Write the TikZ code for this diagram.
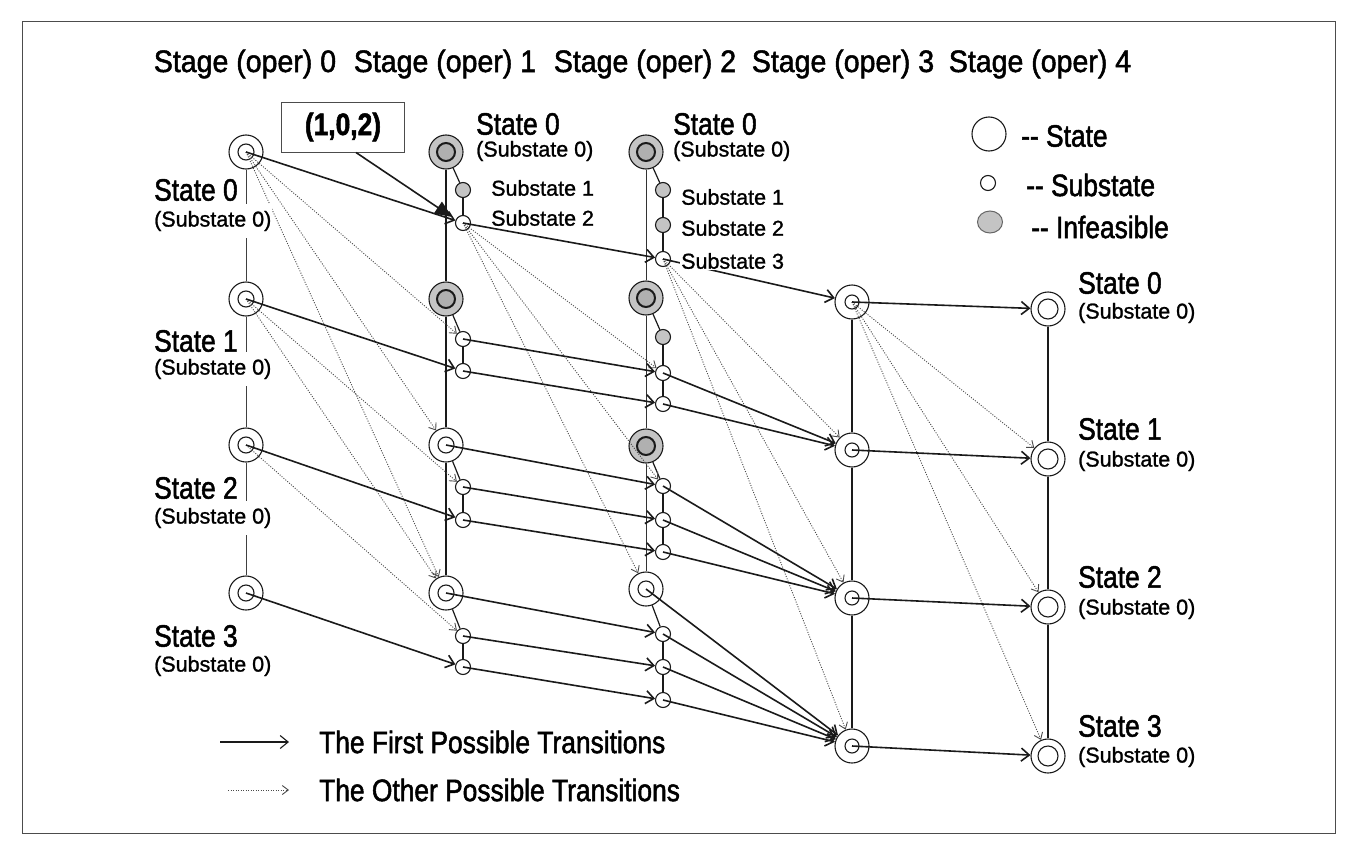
\documentclass[tikz,border=0pt]{standalone}
\usepackage{fontspec}
\setmainfont{Liberation Sans}[FakeBold=1.2]
\newfontfamily\condf{Liberation Sans}[FakeStretch=0.85,FakeBold=1.6]
\newfontfamily\headf{Liberation Sans}[FakeStretch=0.92,FakeBold=1.6]
\newfontfamily\smallf{Liberation Sans}[FakeBold=1.2]
\usetikzlibrary{arrows.meta,shapes.geometric}
\definecolor{cInf}{HTML}{C4C4C4}
\definecolor{cInk}{HTML}{1A1A1A}
\definecolor{cDot}{HTML}{4A4A4A}
\tikzset{
  st/.style ={circle,draw=cInk,line width=1.1pt,fill=white,minimum size=34pt,inner sep=0pt,
              path picture={\draw[cInk,line width=1.1pt] (path picture bounding box.center) circle (#1);}},
  st/.default=8pt,
  inf/.style={circle,draw=cInk,line width=1.1pt,fill=cInf,minimum size=34pt,inner sep=0pt,
              path picture={\draw[cInk,line width=2pt,fill=cInf!90!black] (path picture bounding box.center) circle (9pt);}},
  sb/.style ={circle,draw=cInk,line width=1.1pt,fill=white,minimum size=15pt,inner sep=0pt},
  isb/.style={sb,fill=cInf},
  first/.style={-{Straight Barb[length=8pt,width=13pt]},line width=1.6pt,cInk},
  other/.style={-{Straight Barb[length=6pt,width=9pt]},line width=0.9pt,cDot,dash pattern=on 1pt off 1.5pt},
  sl/.style ={line width=1.2pt,cInk},
  big/.style={font=\condf\fontsize{31}{33}\selectfont,inner sep=1pt},
  small/.style={font=\smallf\fontsize{21.5}{23}\selectfont,inner sep=1pt},
  hd/.style ={font=\headf\fontsize{31}{33}\selectfont,inner sep=1pt},
}

\begin{document}
\begin{tikzpicture}[x=1pt,y=-1pt,
   lbl/.style={fill=white,anchor=west}]
\fill[white] (0,0) rectangle (1357,851);
\useasboundingbox (0,0) rectangle (1357,851);
\draw[line width=1pt,black!70] (22,22) rectangle (1335,833);
% stage headers
\node[hd] (h0) at (245,64)  {Stage (oper) 0};
\node[hd] (h1) at (445,64)  {Stage (oper) 1};
\node[hd] (h2) at (645,64)  {Stage (oper) 2};
\node[hd] (h3) at (843,64)  {Stage (oper) 3};
\node[hd] (h4) at (1040,64) {Stage (oper) 4};
% stage 0
\node[st]  (a0)  at (246,152) {};
\node[st]  (a1)  at (246,299) {};
\node[st]  (a2)  at (246,445) {};
\node[st]  (a3)  at (246,593) {};
% stage 1
\node[inf] (b0)  at (446,152) {};
\node[isb] (b0a) at (463,190) {};
\node[sb]  (b0b) at (463,223) {};
\node[inf] (b1)  at (446,299) {};
\node[sb]  (b1a) at (463,339) {};
\node[sb]  (b1b) at (463,371) {};
\node[st]  (b2)  at (446,445) {};
\node[sb]  (b2a) at (463,487) {};
\node[sb]  (b2b) at (463,520) {};
\node[st]  (b3)  at (446,593) {};
\node[sb]  (b3a) at (463,636) {};
\node[sb]  (b3b) at (463,667) {};
% stage 2
\node[inf] (c0)  at (646,152) {};
\node[isb] (c0a) at (663,190) {};
\node[isb] (c0b) at (663,225) {};
\node[sb]  (c0c) at (663,259) {};
\node[inf] (c1)  at (646,298) {};
\node[isb] (c1a) at (663,337) {};
\node[sb]  (c1b) at (663,373) {};
\node[sb]  (c1c) at (663,404) {};
\node[inf] (c2)  at (646,446) {};
\node[sb]  (c2a) at (663,486) {};
\node[sb]  (c2b) at (663,520) {};
\node[sb]  (c2c) at (663,552) {};
\node[st]  (c3)  at (646,589) {};
\node[sb]  (c3a) at (663,634) {};
\node[sb]  (c3b) at (663,667) {};
\node[sb]  (c3c) at (663,700) {};
% stage 3
\node[st=7pt] (d0) at (852,302) {};
\node[st=7pt] (d1) at (852,450) {};
\node[st=7pt] (d2) at (852,598) {};
\node[st=7pt] (d3) at (852,746) {};
% stage 4
\node[st=10pt] (e0) at (1048,309) {};
\node[st=10pt] (e1) at (1048,459) {};
\node[st=10pt] (e2) at (1048,607) {};
\node[st=10pt] (e3) at (1048,756) {};
% column lines
\draw[line width=0.9pt,black!75] (a0) -- (a1);
\draw[line width=0.9pt,black!75] (a1) -- (a2);
\draw[line width=0.9pt,black!75] (a2) -- (a3);
\draw[line width=1.8pt,cInk] (b0) -- (b1);
\draw[line width=1.8pt,cInk] (b1) -- (b2);
\draw[line width=1.8pt,cInk] (b2) -- (b3);
\draw[line width=1pt,black!80] (c0) -- (c1);
\draw[line width=1pt,black!80] (c1) -- (c2);
\draw[line width=1pt,black!80] (c2) -- (c3);
\draw[line width=1.2pt,cInk] (d0) -- (d1);
\draw[line width=1.2pt,cInk] (d1) -- (d2);
\draw[line width=1.2pt,cInk] (d2) -- (d3);
\draw[line width=1.2pt,cInk] (e0) -- (e1);
\draw[line width=1.2pt,cInk] (e1) -- (e2);
\draw[line width=1.2pt,cInk] (e2) -- (e3);
% substate links
\draw[sl] (b0) -- (b0a);  \draw[sl] (b0a) -- (b0b);
\draw[sl] (b1) -- (b1a);  \draw[sl] (b1a) -- (b1b);
\draw[sl] (b2) -- (b2a);  \draw[sl] (b2a) -- (b2b);
\draw[sl] (b3) -- (b3a);  \draw[sl] (b3a) -- (b3b);
\draw[sl] (c0) -- (c0a);  \draw[sl] (c0a) -- (c0b);  \draw[sl] (c0b) -- (c0c);
\draw[sl] (c1) -- (c1a);  \draw[sl] (c1a) -- (c1b);  \draw[sl] (c1b) -- (c1c);
\draw[sl] (c2) -- (c2a);  \draw[sl] (c2a) -- (c2b);  \draw[sl] (c2b) -- (c2c);
\draw[sl] (c3) -- (c3a);  \draw[sl] (c3a) -- (c3b);  \draw[sl] (c3b) -- (c3c);
% other possible transitions
\draw[other] (a0.center) -- (b1a);
\draw[other] (a0.center) -- (b2);
\draw[other] (a0.center) -- (b3);
\draw[other] (a1.center) -- (b2a);
\draw[other] (a1.center) -- (b3);
\draw[other] (a2.center) -- (b3a);
\draw[other] (b0b.center) -- (c1b);
\draw[other] (b0b.center) -- (c2a);
\draw[other] (b0b.center) -- (c3);
\draw[other] (c0c.center) -- (d1);
\draw[other] (c0c.center) -- (d2);
\draw[other] (c0c.center) -- (d3);
\draw[other] (d0.center) -- (e1);
\draw[other] (d0.center) -- (e2);
\draw[other] (d0.center) -- (e3);
% first possible transitions
\draw[first] (a0.center) -- (b0b);
\draw[first] (a1.center) -- (b1b);
\draw[first] (a2.center) -- (b2b);
\draw[first] (a3.center) -- (b3b);
\draw[first] (b0b.center) -- (c0c);
\draw[first] (b1a.center) -- (c1b);
\draw[first] (b1b.center) -- (c1c);
\draw[first] (b2.center) -- (c2a);
\draw[first] (b2a.center) -- (c2b);
\draw[first] (b2b.center) -- (c2c);
\draw[first] (b3.center) -- (c3a);
\draw[first] (b3a.center) -- (c3b);
\draw[first] (b3b.center) -- (c3c);
\draw[first] (c0c.center) -- (d0);
\draw[first] (c1b.center) -- (d1);
\draw[first] (c1c.center) -- (d1);
\draw[first] (c2a.center) -- (d2);
\draw[first] (c2b.center) -- (d2);
\draw[first] (c2c.center) -- (d2);
\draw[first] (c3.center) -- (d3);
\draw[first] (c3a.center) -- (d3);
\draw[first] (c3b.center) -- (d3);
\draw[first] (c3c.center) -- (d3);
\draw[first] (d0.center) -- (e0);
\draw[first] (d1.center) -- (e1);
\draw[first] (d2.center) -- (e2);
\draw[first] (d3.center) -- (e3);
% tag box
\node[draw=black!70,line width=1pt,minimum width=123pt,minimum height=50pt,
      font=\condf\bfseries\fontsize{31}{33}\selectfont] (tag) at (343,127) {(1,0,2)};
\coordinate (tip) at (452,217);
\draw[line width=1.6pt,cInk,-{Triangle[length=17pt,width=14pt]}] ([xshift=13pt]tag.south) -- (tip);
% state labels
\node[small,lbl,inner ysep=7pt] (la0s) at (153,221) {(Substate 0)};
\node[big,lbl]   (la0) at (153,190) {State 0};
\node[small,lbl,inner ysep=7pt] (la1s) at (153,369) {(Substate 0)};
\node[big,lbl]   (la1) at (153,341) {State 1};
\node[small,lbl,inner ysep=7pt] (la2s) at (153,518) {(Substate 0)};
\node[big,lbl]   (la2) at (153,488) {State 2};
\node[small,lbl,inner ysep=7pt] (la3s) at (153,666) {(Substate 0)};
\node[big,lbl]   (la3) at (153,636) {State 3};
\node[big,lbl]   (lb0)  at (475,124) {State 0};
\node[small,lbl] (lb0s) at (475,151) {(Substate 0)};
\node[small,lbl] (lb0a) at (490,188) {Substate 1};
\node[small,lbl] (lb0b) at (490,218) {Substate 2};
\node[big,lbl]   (lc0)  at (672,124) {State 0};
\node[small,lbl] (lc0s) at (672,151) {(Substate 0)};
\node[small,lbl] (lc0a) at (680,197) {Substate 1};
\node[small,lbl] (lc0b) at (680,228) {Substate 2};
\node[small,lbl] (lc0c) at (680,261) {Substate 3};
\node[big,lbl]   (le0)  at (1077,283) {State 0};
\node[small,lbl] (le0s) at (1077,313) {(Substate 0)};
\node[big,lbl]   (le1)  at (1077,429) {State 1};
\node[small,lbl] (le1s) at (1077,461) {(Substate 0)};
\node[big,lbl]   (le2)  at (1077,577) {State 2};
\node[small,lbl] (le2s) at (1077,609) {(Substate 0)};
\node[big,lbl]   (le3)  at (1077,726) {State 3};
\node[small,lbl] (le3s) at (1077,757) {(Substate 0)};
% key
\node[circle,draw=cInk,line width=1.1pt,minimum size=34pt,inner sep=0pt] (kst) at (989,134) {};
\node[sb] (ksb) at (988,183) {};
\node[ellipse,draw=black!60,line width=1pt,fill=cInf,minimum width=25pt,minimum height=22pt,inner sep=0pt] (kinf) at (990,222) {};
\node[big,anchor=west] (lkst)  at (1020,136) {-{}- State};
\node[big,anchor=west] (lksb)  at (1025,185) {-{}- Substate};
\node[big,anchor=west] (lkinf) at (1030,227) {-{}- Infeasible};
\coordinate (k1a) at (220,742);
\coordinate (k1b) at (289,742);
\coordinate (k2a) at (228,790);
\coordinate (k2b) at (289,790);
\draw[first,line width=1.1pt] (k1a) -- (k1b);
\draw[other] (k2a) -- (k2b);
\node[big,anchor=west] (lk1) at (318,742) {The First Possible Transitions};
\node[big,anchor=west] (lk2) at (318,790) {The Other Possible Transitions};
\end{tikzpicture}
\end{document}
